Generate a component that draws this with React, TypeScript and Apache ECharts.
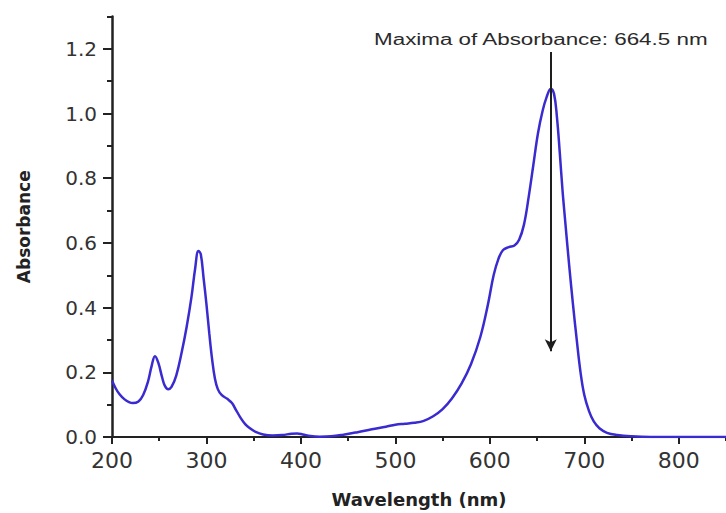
import React, { useEffect, useRef } from "react";
import * as echarts from "echarts";

// Wavelength (nm) samples
const wavelengths = [
  200, 204, 208, 213, 218, 222, 228, 233, 238, 242, 245.5, 249, 253, 256, 259.5,
  263, 268, 274, 279, 284, 288, 291.5, 294, 297, 300, 303, 306, 309, 312, 316,
  322, 327, 331, 336, 341, 346, 352, 360, 370, 380, 390, 396, 402, 410, 420,
  432, 445, 460, 475, 490, 500, 510, 520, 530, 540, 550, 560, 570, 580, 590,
  598, 604, 609, 614, 620, 626, 631, 636, 641, 646, 651, 656, 660, 664.5, 668,
  671, 674, 677, 680, 684, 688, 692, 696, 700, 705, 710, 716, 724, 735, 750,
  770, 800, 850,
];

// Absorbance values at those wavelengths
const absorbance = [
  0.175, 0.15, 0.132, 0.117, 0.108, 0.105, 0.11, 0.13, 0.17, 0.22, 0.25, 0.23,
  0.185, 0.158, 0.148, 0.155, 0.19, 0.265, 0.34, 0.43, 0.52, 0.575, 0.565, 0.49,
  0.41, 0.32, 0.24, 0.18, 0.148, 0.13, 0.118, 0.105, 0.085, 0.06, 0.04, 0.027,
  0.016, 0.008, 0.005, 0.006, 0.01, 0.011, 0.008, 0.003, 0.001, 0.002, 0.007,
  0.015, 0.024, 0.032, 0.038, 0.041, 0.044, 0.05, 0.064, 0.086, 0.12, 0.165,
  0.225, 0.31, 0.41, 0.5, 0.55, 0.578, 0.587, 0.592, 0.61, 0.655, 0.74, 0.84,
  0.94, 1.01, 1.05, 1.077, 1.06, 0.99, 0.88, 0.76, 0.66, 0.53, 0.41, 0.3, 0.2,
  0.13, 0.08, 0.048, 0.027, 0.013, 0.006, 0.002, 0, 0, 0,
];

const xTickLabels = [200, 300, 400, 500, 600, 700, 800];
const yTickLabels = [0, 0.2, 0.4, 0.6, 0.8, 1.0, 1.2];

const maximaWavelength = 664.5;
const arrowTopValue = 1.19;
const arrowBottomValue = 0.265;
const annotationText = "Maxima of Absorbance: 664.5 nm";

export default function App() {
  const ref = useRef<HTMLDivElement>(null);

  useEffect(() => {
    if (!ref.current) return;
    const chart = echarts.init(ref.current, null, { renderer: "svg" });
    const data = wavelengths.map((w, i) => [w, absorbance[i]]);
    const axisColor = "#222";
    const labelColor = "#333";

    chart.setOption({
      animation: false,
      backgroundColor: "#fff",
      grid: { left: 112, right: 0, top: 16.5, bottom: 74 },
      xAxis: [
        {
          type: "value",
          min: 200,
          max: 850,
          interval: 50,
          name: "Wavelength (nm)",
          nameLocation: "middle",
          nameGap: 53,
          nameTextStyle: {
            fontFamily: "DejaVu Sans",
            fontWeight: "bold",
            fontSize: 18,
            color: axisColor,
          },
          axisLine: { show: true, onZero: false, lineStyle: { color: axisColor, width: 2 } },
          axisTick: { show: true, length: 4, lineStyle: { color: axisColor, width: 2 } },
          axisLabel: {
            customValues: xTickLabels,
            margin: 12,
            fontFamily: "DejaVu Sans",
            fontSize: 22,
            color: labelColor,
          },
          splitLine: { show: false },
        },
        {
          type: "value",
          min: 200,
          max: 850,
          interval: 50,
          position: "bottom",
          axisLine: { show: false },
          axisTick: {
            show: true,
            customValues: xTickLabels,
            length: 7,
            lineStyle: { color: axisColor, width: 2 },
          },
          axisLabel: { show: false },
          splitLine: { show: false },
        },
      ],
      yAxis: [
        {
          type: "value",
          min: 0,
          max: 1.3,
          interval: 0.1,
          name: "Absorbance",
          nameLocation: "middle",
          nameGap: 80,
          nameTextStyle: {
            fontFamily: "DejaVu Sans",
            fontWeight: "bold",
            fontSize: 17,
            color: axisColor,
          },
          axisLine: { show: true, onZero: false, lineStyle: { color: axisColor, width: 2.5 } },
          axisTick: { show: true, length: 5, lineStyle: { color: axisColor, width: 2 } },
          axisLabel: {
            customValues: yTickLabels,
            margin: 15,
            fontFamily: "DejaVu Sans",
            fontSize: 20,
            color: labelColor,
            formatter: (v: number) => v.toFixed(1),
          },
          splitLine: { show: false },
        },
        {
          type: "value",
          min: 0,
          max: 1.3,
          interval: 0.1,
          position: "left",
          axisLine: { show: false },
          axisTick: {
            show: true,
            customValues: yTickLabels,
            length: 9,
            lineStyle: { color: axisColor, width: 2 },
          },
          axisLabel: { show: false },
          splitLine: { show: false },
        },
      ],
      series: [
        {
          type: "line",
          xAxisIndex: 0,
          yAxisIndex: 0,
          data,
          smooth: 0.4,
          showSymbol: false,
          symbol: "none",
          lineStyle: { color: "#3a2bd0", width: 2.5 },
          markLine: {
            silent: true,
            symbol: ["none", "arrow"],
            symbolSize: [9, 12],
            label: { show: false },
            lineStyle: { color: "#1e1e1e", width: 2, type: "solid" },
            data: [
              [
                { coord: [maximaWavelength, arrowTopValue] },
                { coord: [maximaWavelength, arrowBottomValue] },
              ],
            ],
          },
        },
      ],
    });

    const p = chart.convertToPixel({ gridIndex: 0 }, [maximaWavelength, arrowTopValue]) as number[];
    chart.setOption({
      graphic: [
        {
          type: "text",
          x: p[0] - 10,
          y: p[1] - 13,
          scaleX: 1.4,
          style: {
            text: annotationText,
            fontFamily: "Liberation Sans",
            fontSize: 16,
            fill: "#2a2a2a",
            align: "center",
            verticalAlign: "middle",
            textAlign: "center",
            textVerticalAlign: "middle",
          },
        },
      ],
    });

    return () => chart.dispose();
  }, []);

  return (
    <div
      ref={ref}
      style={{ position: "fixed", left: 0, top: 0, width: 726, height: 513 }}
    />
  );
}
